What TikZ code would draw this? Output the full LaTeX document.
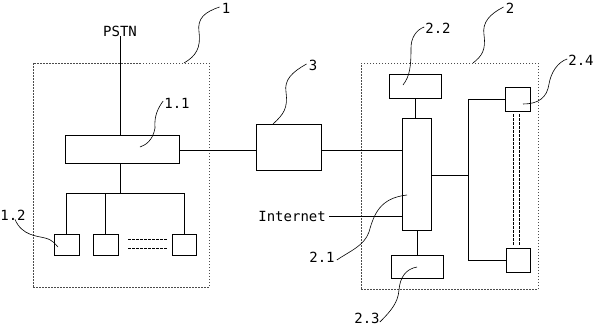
\documentclass[tikz,border=0pt]{standalone}
\usepackage{fontspec}
\setmonofont{DejaVu Sans Mono}
\begin{document}
\begin{tikzpicture}[x=1pt,y=-1pt,
  box/.style={draw,line width=0.9pt,inner sep=0pt,outer sep=0pt},
  frame/.style={draw=black!70,line width=0.9pt,dash pattern=on 1.5pt off 1.5pt,inner sep=0pt,outer sep=0pt},
  lbl/.style={font=\ttfamily\fontsize{14}{14}\selectfont,inner sep=0pt},
  wire/.style={line width=0.9pt},
  leader/.style={line width=0.6pt},
  dash2/.style={line width=0.8pt,dash pattern=on 2.5pt off 1.5pt}]
\useasboundingbox (0,0) rectangle (600,327);
% frames
\node[frame,minimum width=176pt,minimum height=224pt] (b1) at (121,175) {};
\node[frame,minimum width=177pt,minimum height=226pt] (b2) at (449.5,176) {};
% unit 1
\node[lbl] (pstn) at (120,31) {PSTN};
\node[box,minimum width=114pt,minimum height=28pt] (n11) at (122,149) {};
\coordinate (bus) at (120,193);
\node[box,minimum width=25pt,minimum height=21pt] (sa) at (66.5,244.5) {};
\node[box,minimum width=25pt,minimum height=21pt] (sb) at (105.5,244.5) {};
\node[box,minimum width=24pt,minimum height=21pt] (sc) at (184,244.5) {};
\draw[wire] (pstn.south) -- (pstn.south |- n11.north);
\draw[wire] (n11.south -| bus) -- (bus);
\draw[wire] (sa.north) -- (sa.north |- bus) -- (sc.north |- bus) -- (sc.north);
\draw[wire] (sb.north) -- (sb.north |- bus);
\coordinate (d1a) at (128,239.5);
\coordinate (d1b) at (167,239.5);
\coordinate (d2a) at (128,248.5);
\coordinate (d2b) at (167,248.5);
\draw[dash2] (d1a) -- (d1b);
\draw[dash2] (d2a) -- (d2b);
% unit 3
\node[box,minimum width=65pt,minimum height=46pt] (n3) at (288.5,147) {};
% unit 2
\node[box,minimum width=29pt,minimum height=112pt] (n21) at (416.5,174) {};
\node[box,minimum width=52pt,minimum height=24pt] (n22) at (415,86) {};
\node[box,minimum width=52pt,minimum height=23pt] (n23) at (417,266.5) {};
\node[box,minimum width=25pt,minimum height=24pt] (n24) at (517.5,99) {};
\node[box,minimum width=24pt,minimum height=24pt] (n25) at (518,260) {};
\coordinate (rv) at (468,175);
\draw[wire] (n11.east |- 0,150) -- (n3.west |- 0,150);
\draw[wire] (n3.east |- 0,150) -- (n21.west |- 0,150);
\draw[wire] (n22.south) -- (n22.south |- n21.north);
\draw[wire] (n21.south -| n23.north) -- (n23.north);
\draw[wire] (n21.east |- rv) -- (rv);
\draw[wire] (n24.west) -- (n24.west -| rv) -- (n25.west -| rv) -- (n25.west);
\node[lbl,anchor=east] (inet) at (326,216) {Internet};
\draw[wire] (inet.east) ++(3pt,0) -- (n21.west |- inet.east);
\coordinate (v1a) at (513,114);
\coordinate (v1b) at (513,246);
\coordinate (v2a) at (519,114);
\coordinate (v2b) at (519,246);
\draw[dash2] (v1a) -- (v1b);
\draw[dash2] (v2a) -- (v2b);
% labels and leaders
\node[lbl] (l1) at (226,8) {1};
\draw[leader] (l1.west) ++(-2pt,1pt) .. controls (205,12) and (197,18) .. (199,32) .. controls (201,48) and (196,56) .. (184,63);
\node[lbl] (l11) at (177,103) {1.1};
\draw[leader] (l11.west) ++(-1pt,2pt) .. controls (158,108) and (154,116) .. (155,128) .. controls (153,140) and (146,145) .. (140,147);
\node[lbl] (l12) at (13,215) {1.2};
\draw[leader] (l12.south) ++(2pt,1pt) .. controls (22,236) and (38,236) .. (45,238) .. controls (53,240) and (55,244) .. (58,247);
\node[lbl] (l3) at (313,65) {3};
\draw[leader] (l3.west) ++(-2pt,1pt) .. controls (292,72) and (284,80) .. (286,92) .. controls (288,108) and (284,114) .. (273,124);
\node[lbl] (l2) at (510,8) {2};
\draw[leader] (l2.west) ++(-2pt,1pt) .. controls (490,14) and (482,22) .. (484,35) .. controls (486,50) and (482,56) .. (473,63);
\node[lbl] (l22) at (438,28) {2.2};
\draw[leader] (l22.west) ++(-1pt,1pt) .. controls (416,30) and (411,38) .. (411,48) .. controls (411,66) and (410,76) .. (403,85);
\node[lbl] (l24) at (581,60) {2.4};
\draw[leader] (l24.west) ++(-1pt,1pt) .. controls (558,62) and (551,72) .. (549,84) .. controls (547,98) and (538,104) .. (523,104);
\node[lbl] (l21) at (322,257) {2.1};
\draw[leader] (l21.east) ++(2pt,-3pt) .. controls (350,251) and (364,246) .. (369,232) .. controls (374,214) and (380,198) .. (407,195);
\node[lbl] (l23) at (367,318) {2.3};
\draw[leader] (l23.east) ++(0pt,-4pt) .. controls (392,310) and (398,302) .. (399,290) .. controls (400,277) and (406,269) .. (417,267);
\end{tikzpicture}
\end{document}
